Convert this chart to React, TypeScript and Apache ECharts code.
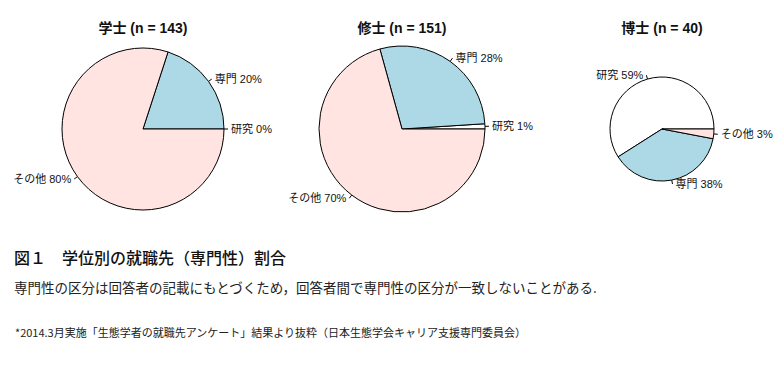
import React, { useEffect, useRef } from "react";
import * as echarts from "echarts";

const categories = ["研究", "専門", "その他"];
const bachelorValues = [0, 20, 80];
const masterValues = [1, 28, 70];
const doctorValues = [59, 38, 3];
const pieTitles = ["学士 (n = 143)", "修士 (n = 151)", "博士 (n = 40)"];
const sliceColors = ["#FFFFFF", "#ADD8E6", "#FFE4E1"];
const captionTitle = "図１　学位別の就職先（専門性）割合";
const captionBody = "専門性の区分は回答者の記載にもとづくため，回答者間で専門性の区分が一致しないことがある.";
const footnote = "*2014.3月実施「生態学者の就職先アンケート」結果より抜粋（日本生態学会キャリア支援専門委員会）";

const LATIN = "'Liberation Sans', 'Noto Sans CJK JP', sans-serif";
const CJK = "'Noto Sans CJK JP', sans-serif";

function makePie(values: number[], center: [number, number], radius: number) {
  return {
    type: "pie",
    center,
    radius,
    startAngle: 0,
    clockwise: false,
    avoidLabelOverlap: false,
    silent: true,
    data: categories.map((name, i) => ({
      name,
      value: values[i],
      itemStyle: { color: sliceColors[i] },
    })),
    itemStyle: { borderColor: "#000", borderWidth: 1 },
    label: {
      show: true,
      position: "outside",
      formatter: "{b} {c}%",
      color: "#111",
      fontSize: 11,
      fontFamily: LATIN,
      distanceToLabelLine: 3,
    },
    labelLine: {
      show: true,
      length: 4,
      length2: 0,
      lineStyle: { color: "#000", width: 1 },
    },
  };
}

export default function App() {
  const ref = useRef<HTMLDivElement>(null);
  useEffect(() => {
    if (!ref.current) return;
    const chart = echarts.init(ref.current, null, { renderer: "svg" });
    const titleX = [143, 402, 662];
    chart.setOption({
      animation: false,
      backgroundColor: "#fff",
      series: [
        makePie(bachelorValues, [143, 129], 81),
        makePie(masterValues, [402, 129], 83),
        makePie(doctorValues, [662, 129], 52),
      ],
      graphic: [
        ...pieTitles.map((t, i) => ({
          type: "text",
          x: titleX[i],
          y: 28,
          style: {
            text: t,
            fontSize: 14,
            fontWeight: "bold",
            fontFamily: LATIN,
            fill: "#111",
            textAlign: "center",
            textVerticalAlign: "middle",
          },
        })),
        {
          type: "text",
          x: 14,
          y: 257,
          style: {
            text: captionTitle,
            fontSize: 16,
            fontWeight: 500,
            fontFamily: CJK,
            fill: "#111",
            textVerticalAlign: "middle",
          },
        },
        {
          type: "text",
          x: 14,
          y: 287,
          style: {
            text: captionBody,
            fontSize: 13.5,
            fontFamily: CJK,
            fill: "#222",
            textVerticalAlign: "middle",
          },
        },
        {
          type: "text",
          x: 15,
          y: 332,
          style: {
            text: footnote,
            fontSize: 11,
            fontFamily: CJK,
            fill: "#222",
            textVerticalAlign: "middle",
          },
        },
      ],
    });
    return () => chart.dispose();
  }, []);
  return (
    <div
      ref={ref}
      style={{ position: "fixed", left: 0, top: 0, width: 779, height: 368 }}
    />
  );
}
